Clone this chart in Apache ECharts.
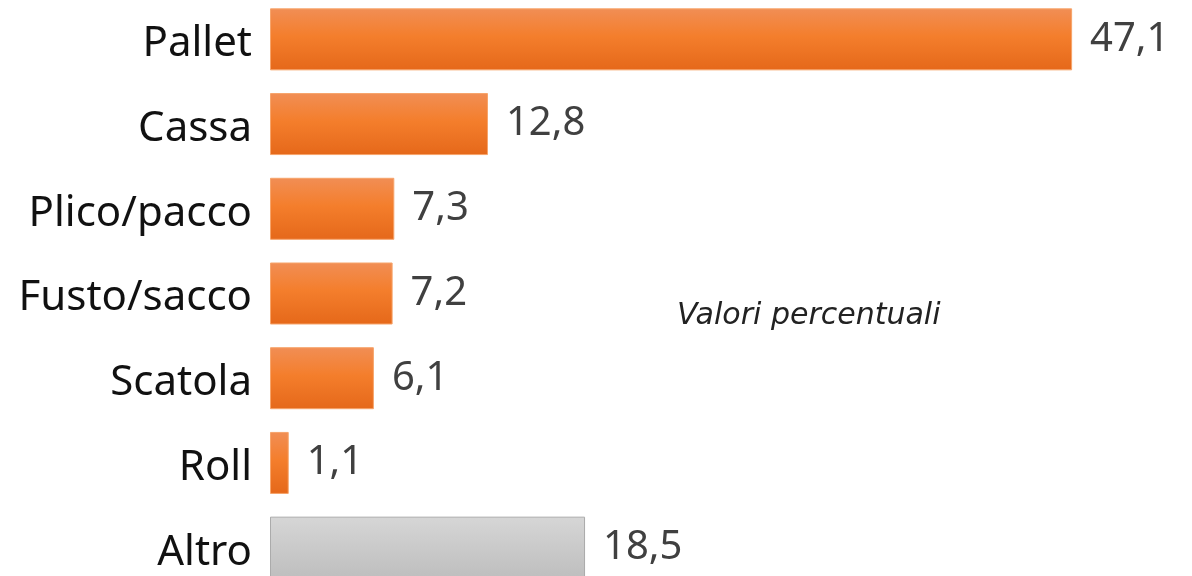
<!DOCTYPE html>
<html>
<head>
<meta charset="utf-8">
<script src="https://cdn.jsdelivr.net/npm/echarts@6/dist/echarts.min.js"></script>
<style>
  html, body { margin: 0; padding: 0; background: #fff; overflow: hidden; }
  #chart { width: 1192px; height: 596px; margin-top: -3px; }
</style>
</head>
<body>
<div id="chart"></div>
<script>
var categories = ['Pallet', 'Cassa', 'Plico/pacco', 'Fusto/sacco', 'Scatola', 'Roll', 'Altro'];
var values = [47.1, 12.8, 7.3, 7.2, 6.1, 1.1, 18.5];
var greyCategory = 'Altro';

var myChart = echarts.init(document.getElementById('chart'));

var orangeFill = new echarts.graphic.LinearGradient(0, 0, 0, 1, [
    { offset: 0, color: '#F18E55' },
    { offset: 0.45, color: '#F47E2C' },
    { offset: 1, color: '#E5681A' }
]);
var greyFill = new echarts.graphic.LinearGradient(0, 0, 0, 1, [
    { offset: 0, color: '#D6D6D6' },
    { offset: 1, color: '#BEBEBE' }
]);

var barData = values.map(function (v, i) {
    var grey = categories[i] === greyCategory;
    return {
        value: v,
        itemStyle: {
            color: grey ? greyFill : orangeFill,
            borderColor: grey ? '#ABABAB' : '#F7A46A',
            borderWidth: 1
        }
    };
});

var option = {
    animation: false,
    grid: { left: 270, right: 70.5, top: 0, height: 593, containLabel: false },
    xAxis: {
        type: 'value',
        min: 0,
        max: 50,
        show: false
    },
    yAxis: {
        type: 'category',
        inverse: true,
        data: categories,
        axisLine: { show: false },
        axisTick: { show: false },
        axisLabel: {
            fontFamily: 'Noto Sans',
            fontSize: 42,
            color: '#111',
            margin: 18,
            formatter: function (v) { return '{c|' + v + '}'; },
            rich: {
                c: {
                    fontFamily: 'Noto Sans',
                    fontSize: 42,
                    color: '#111',
                    padding: [10, 0, 0, 0]
                }
            }
        }
    },
    series: [{
        type: 'bar',
        data: barData,
        barWidth: 62,
        label: {
            show: true,
            position: 'right',
            distance: 18,
            fontFamily: 'Noto Sans',
            fontSize: 40,
            color: '#404040',
            formatter: function (p) { return String(p.value).replace('.', ','); }
        }
    }],
    graphic: [{
        type: 'text',
        x: 677,
        y: 319,
        style: {
            text: 'Valori percentuali',
            fontFamily: 'DejaVu Sans',
            fontStyle: 'italic',
            fontSize: 30,
            fill: '#222',
            verticalAlign: 'middle'
        }
    }]
};

option && myChart.setOption(option);
</script>
</body>
</html>
